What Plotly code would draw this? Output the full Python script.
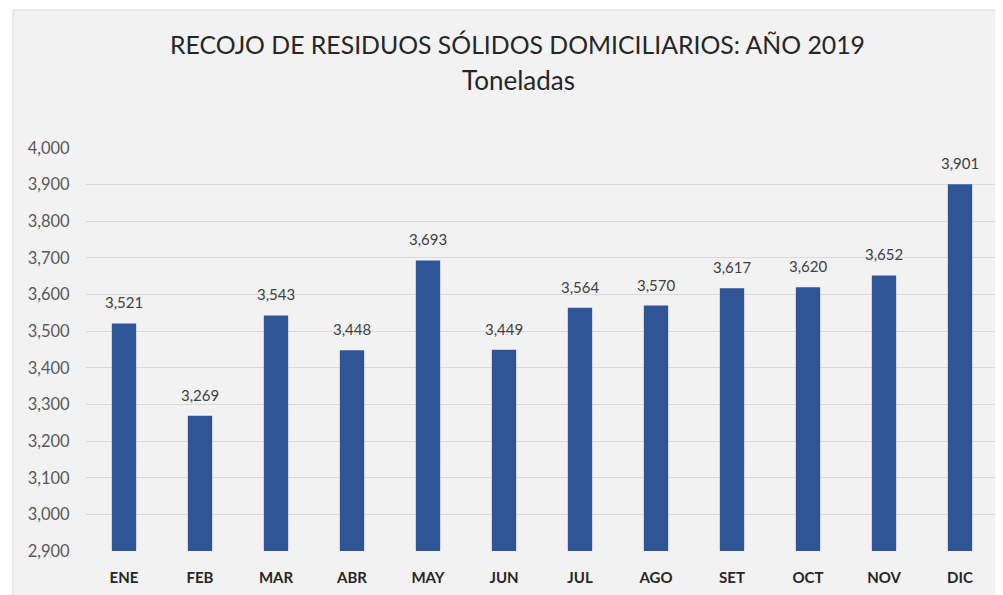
import plotly.graph_objects as go

months = ["ENE", "FEB", "MAR", "ABR", "MAY", "JUN", "JUL", "AGO", "SET", "OCT", "NOV", "DIC"]
tons = [3521, 3269, 3543, 3448, 3693, 3449, 3564, 3570, 3617, 3620, 3652, 3901]
y_ticks = list(range(2900, 4001, 100))

title_line1 = "RECOJO DE RESIDUOS SÓLIDOS DOMICILIARIOS: AÑO 2019"
title_line2 = "Toneladas"

FONT = "Lato"

fig = go.Figure()
fig.add_trace(go.Bar(
    x=months, y=tons,
    marker=dict(color="#2f5597", line=dict(width=0)),
    hoverinfo="x+y",
))

for m, v in zip(months, tons):
    fig.add_annotation(
        x=m, y=v, text=f"{v:,}", showarrow=False,
        yanchor="bottom", yshift=10,
        font=dict(family=FONT, size=15, color="#404040"),
    )

fig.add_annotation(xref="paper", yref="paper", x=0.4726, y=1.2556, text=title_line1,
                   showarrow=False, yanchor="middle", xanchor="center",
                   font=dict(family=FONT, size=24.8, color="#262626"))
fig.add_annotation(xref="paper", yref="paper", x=0.4737, y=1.1687, text=title_line2,
                   showarrow=False, yanchor="middle", xanchor="center",
                   font=dict(family=FONT, size=26, color="#262626"))

fig.add_shape(type="rect", xref="paper", yref="paper",
              x0=-0.080, x1=1.03, y0=-0.25, y1=1.3424,
              fillcolor="#f2f2f2", line=dict(color="#d9d9d9", width=1), layer="below")

fig.update_layout(
    width=995, height=587,
    margin=dict(l=78, r=5, t=140, b=44, pad=0),
    paper_bgcolor="white",
    plot_bgcolor="rgba(0,0,0,0)",
    bargap=0.68,
    showlegend=False,
    font=dict(family=FONT),
)
fig.update_yaxes(
    range=[2900, 4000], tickvals=y_ticks, tickformat=",d",
    showgrid=True, gridcolor="#d9d9d9", gridwidth=1,
    zeroline=False, showline=False,
    ticks="outside", ticklen=12, tickcolor="rgba(0,0,0,0)",
    tickfont=dict(family=FONT, size=16.5, color="#595959"),
)
fig.update_xaxes(
    showgrid=False, showline=False,
    ticks="outside", ticklen=13, tickcolor="rgba(0,0,0,0)",
    tickfont=dict(family=FONT, size=15, color="#262626", weight="bold"),
)

fig.write_html("out.html")
